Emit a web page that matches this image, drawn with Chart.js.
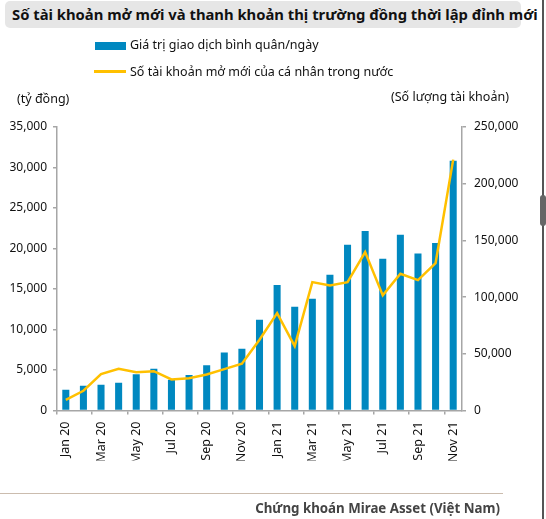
<!DOCTYPE html>
<html>
<head>
<meta charset="utf-8">
<script src="https://cdn.jsdelivr.net/npm/chart.js@4"></script>
<style>
  body { margin:0; background:#fff; font-family:"Noto Sans", sans-serif; }
  #page { position:relative; width:546px; height:519px; overflow:hidden; }
  #wrap { position:absolute; left:0; top:0; width:546px; height:519px; }
  .abs { position:absolute; white-space:nowrap; }
  #titlebox { left:5px; top:1px; width:516px; height:27px; background:#e6e6e6; border-radius:5px; }
  #title { left:12px; top:4px; font-weight:bold; font-size:14.8px; color:#111; }
  .lg { font-size:12.5px; color:#111; }
  #foot { left:0; top:493px; width:503px; height:0; border-top:1.5px solid #cbbcae; }
  #src { right:46px; top:499px; font-weight:bold; font-size:13.3px; color:#444; }
  #edge { left:542px; top:0; width:2px; height:519px; background:#555; }
  #thumb { left:540px; top:195px; width:6px; height:31px; background:#666; border-radius:3px; }
</style>
</head>
<body>
<div id="page">
  <div class="abs" id="titlebox"></div>
  <div class="abs" id="title">Số tài khoản mở mới và thanh khoản thị trường đồng thời lập đỉnh mới</div>
  <div id="wrap"><canvas id="myChart"></canvas></div>
  <div class="abs" style="left:95px;top:42px;width:31px;height:8px;background:#0088c0"></div>
  <div class="abs lg" style="left:130px;top:36px">Giá trị giao dịch bình quân/ngày</div>
  <div class="abs" style="left:94px;top:70px;width:32px;height:2.5px;background:#ffc000"></div>
  <div class="abs lg" style="left:130px;top:63px">Số tài khoản mở mới của cá nhân trong nước</div>
  <div class="abs lg" style="left:17px;top:90px">(tỷ đồng)</div>
  <div class="abs lg" style="left:391px;top:88px">(Số lượng tài khoản)</div>
  <div class="abs" id="foot"></div>
  <div class="abs" id="src">Chứng khoán Mirae Asset (Việt Nam)</div>
  <div class="abs" id="edge"></div>
  <div class="abs" id="thumb"></div>
</div>
<script>
const thang = ['Jan 20','Feb 20','Mar 20','Apr 20','May 20','Jun 20','Jul 20','Aug 20','Sep 20','Oct 20','Nov 20','Dec 20',
  'Jan 21','Feb 21','Mar 21','Apr 21','May 21','Jun 21','Jul 21','Aug 21','Sep 21','Oct 21','Nov 21'];
// gia tri giao dich binh quan/ngay (ty dong)
const giaTri = [2550, 3050, 3170, 3420, 4490, 5150, 3790, 4370, 5600, 7170, 7620, 11200,
  15480, 12800, 13790, 16760, 20470, 22150, 18740, 21700, 19390, 20670, 30840];
// so tai khoan mo moi
const taiKhoan = [9400, 17400, 32100, 36800, 33800, 34700, 27400, 28500, 31800, 36500, 41200, 62400,
  85900, 56800, 113200, 110300, 113200, 139700, 101500, 120600, 115000, 130000, 221200];
const tickTrai = [0, 35000, 5000];
const tickPhai = [0, 250000, 50000];

const ctx = document.getElementById('myChart').getContext("2d");
const chu = { family: 'Noto Sans', size: 12 };

new Chart(ctx, {
  data: {
    labels: thang,
    datasets: [{
      type: 'line',
      label: 'Số tài khoản mở mới của cá nhân trong nước',
      data: taiKhoan,
      yAxisID: 'y1',
      borderColor: '#ffc000',
      borderWidth: 2.5,
      pointRadius: 0,
      tension: 0,
      order: 1
    }, {
      type: 'bar',
      label: 'Giá trị giao dịch bình quân/ngày',
      data: giaTri,
      yAxisID: 'y',
      backgroundColor: '#0088c0',
      barPercentage: 0.8,
      categoryPercentage: 0.5,
      order: 2
    }]
  },
  options: {
    responsive: true,
    maintainAspectRatio: false,
    animation: false,
    layout: { padding: { top: 127, bottom: 58.5, left: 0, right: 0 } },
    plugins: { legend: { display: false }, tooltip: { enabled: false } },
    scales: {
      x: {
        offset: true,
        afterFit: s => { s.height = 50; },
        border: { color: '#a6a6a6', width: 1.5 },
        grid: {
          offset: true,
          drawOnChartArea: false,
          tickLength: 4,
          lineWidth: 1.5,
          color: c => c.index % 2 === 0 ? '#a6a6a6' : 'rgba(0,0,0,0)'
        },
        ticks: {
          autoSkip: false,
          maxRotation: 90,
          minRotation: 90,
          padding: 7,
          color: '#111',
          font: { family: 'Noto Sans', size: 12.5 },
          callback: (v, i) => i % 2 === 0 ? thang[i] : ''
        }
      },
      y: {
        position: 'left',
        min: tickTrai[0], max: tickTrai[1],
        afterFit: s => { s.width = 57; },
        border: { color: '#a6a6a6', width: 1.5 },
        grid: { drawOnChartArea: false, tickLength: 4, color: '#a6a6a6', lineWidth: 1.5 },
        ticks: { stepSize: tickTrai[2], padding: 6, color: '#111', font: chu }
      },
      y1: {
        position: 'right',
        min: tickPhai[0], max: tickPhai[1],
        afterFit: s => { s.width = 84; },
        border: { color: '#a6a6a6', width: 1.5 },
        grid: { drawOnChartArea: false, tickLength: 4, color: '#a6a6a6', lineWidth: 1.5 },
        ticks: { stepSize: tickPhai[2], padding: 8, color: '#111', font: chu }
      }
    }
  }
});
</script>
</body>
</html>
